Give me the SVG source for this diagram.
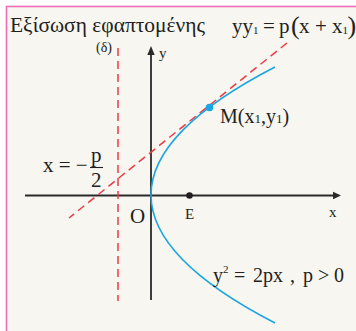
<svg xmlns="http://www.w3.org/2000/svg" width="356" height="331" viewBox="0 0 356 331">
<defs>
<style>
.t{font-family:"Liberation Serif","Times New Roman",serif;fill:#231f20}
.ax{stroke:#2a2a2a;stroke-width:1.8;fill:none}
.dash{stroke:#ee3b45;stroke-width:1.5;stroke-dasharray:8 5;fill:none}
.par{stroke:#1ba5e3;stroke-width:1.6;fill:none}
</style>
</defs>
<rect x="0" y="0" width="356" height="331" fill="#ffffff"/>
<rect x="6.5" y="6.5" width="360" height="340" fill="#f7f6f0" stroke="#ec6cb5" stroke-width="1.6"/>
<g id="title">
<text class="t" x="10" y="32" font-size="21" textLength="195" lengthAdjust="spacingAndGlyphs">Εξίσωση εφαπτομένης</text>
</g>
<g id="tangent-eq">
<text class="t" y="33" font-size="21"><tspan x="232">yy</tspan><tspan font-size="11" dy="1">1</tspan><tspan x="263" dy="-1">=</tspan><tspan x="279">p</tspan><tspan x="291" font-size="26" dy="1">(</tspan><tspan x="299" dy="-1">x</tspan><tspan x="315">+</tspan><tspan x="332">x</tspan><tspan font-size="11" dy="1">1</tspan><tspan x="347.5" font-size="26">)</tspan></text>
</g>
<g id="connectors">
<line class="ax" x1="25" y1="195.5" x2="335" y2="195.5"/>
<polygon points="341,195.5 333,191.8 333,199.2" fill="#2a2a2a"/>
<line class="ax" x1="151" y1="53" x2="151" y2="300"/>
<polygon points="151,46 147.3,55 154.7,55" fill="#2a2a2a"/>
<line class="dash" x1="118" y1="48" x2="118" y2="301"/>
<line class="dash" x1="287" y1="43" x2="69" y2="218"/>
<path class="par" d="M275,67 Q27,195 275,323"/>
</g>
<g id="directrix">
<text class="t" x="96" y="52" font-size="14">(δ)</text>
<text class="t" x="43" y="172" font-size="21">x = −</text>
<text class="t" x="91" y="162" font-size="21">p</text>
<line x1="90" y1="167.5" x2="103" y2="167.5" stroke="#231f20" stroke-width="1.1"/>
<text class="t" x="91" y="187" font-size="21">2</text>
</g>
<g id="axis-labels">
<text class="t" x="159" y="58" font-size="15">y</text>
<text class="t" x="329" y="217" font-size="15">x</text>
<text class="t" x="130" y="223" font-size="21">O</text>
</g>
<g id="focus">
<circle cx="189.5" cy="195.5" r="3.3" fill="#231f20"/>
<text class="t" x="185" y="219" font-size="15">E</text>
</g>
<g id="point-M">
<circle cx="209.5" cy="107.5" r="3.8" fill="#1ba5e3"/>
<text class="t" x="220" y="123" font-size="20">M(x<tspan font-size="13">1</tspan>,y<tspan font-size="13">1</tspan>)</text>
</g>
<g id="parabola-eq">
<text class="t" y="282" font-size="20"><tspan x="213">y</tspan><tspan font-size="11" dy="-9">2</tspan><tspan x="234" dy="9">=</tspan><tspan x="253">2px</tspan><tspan x="290">,</tspan><tspan x="303">p</tspan><tspan x="318">&gt;</tspan><tspan x="334">0</tspan></text>
</g>
</svg>
